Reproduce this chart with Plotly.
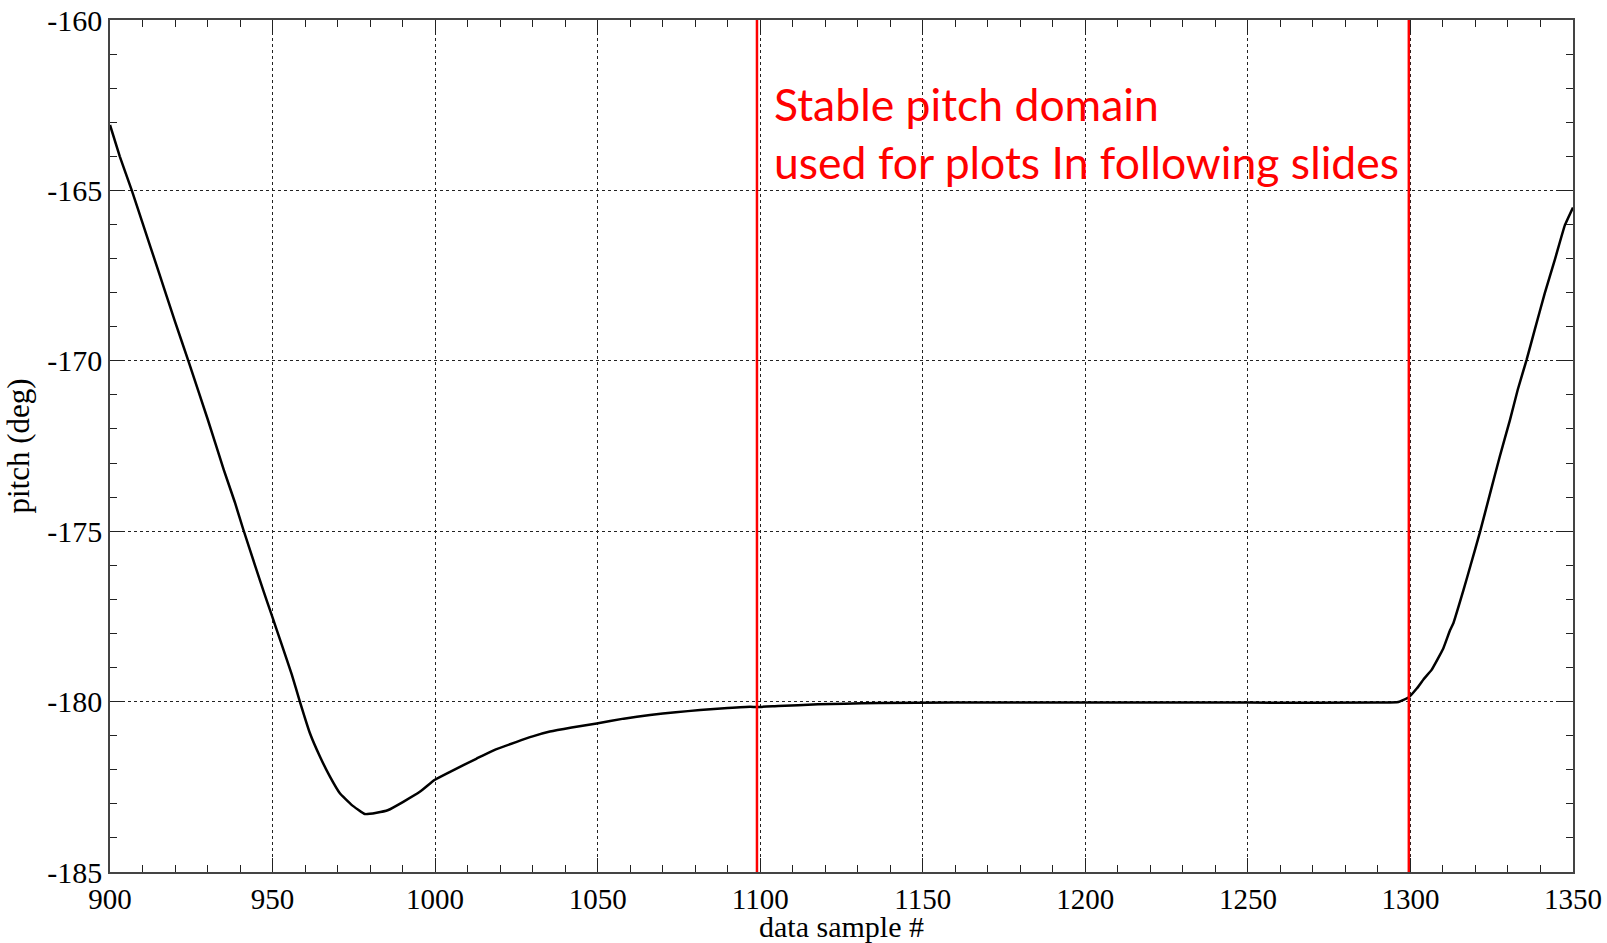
import plotly.graph_objects as go

# --- data ---
sample = [900, 903, 906.7, 910, 915, 920, 924.1, 930, 935, 938.4, 941, 944.6, 947.2, 949.7,
          952.8, 955.9, 958.4, 961.5, 964.6, 967.7, 970.7, 974.3, 978.4, 982, 985.6, 990.2,
          995.4, 999.8, 1004.6, 1012.8, 1018, 1025.1, 1030, 1035.3, 1042, 1049.7, 1058, 1066.1,
          1074, 1081.5, 1090, 1096.9, 1099, 1105.5, 1117.8, 1126, 1136.5, 1160, 1200, 1250,
          1290, 1296.3, 1299.4, 1302, 1304, 1306.5, 1310.1, 1312.2, 1313.2, 1316.3, 1318.5,
          1321.4, 1324.5, 1327.5, 1330.6, 1333, 1335.7, 1338.2, 1341.3, 1344.4, 1347.5, 1350]
pitch = [-163.08, -164.0, -165.0, -165.95, -167.4, -168.85, -170.0, -171.7, -173.2, -174.15,
         -174.95, -176.0, -176.75, -177.45, -178.32, -179.2, -180.0, -180.93, -181.62, -182.21,
         -182.69, -183.03, -183.3, -183.26, -183.18, -182.94, -182.64, -182.3, -182.06, -181.67,
         -181.43, -181.18, -181.02, -180.88, -180.76, -180.64, -180.5, -180.39, -180.31, -180.25,
         -180.19, -180.15, -180.16, -180.13, -180.08, -180.06, -180.04, -180.03, -180.03, -180.03,
         -180.03, -180.01, -179.88, -179.61, -179.35, -179.07, -178.44, -177.9, -177.7, -176.73,
         -176.0, -175.02, -173.89, -172.8, -171.74, -170.85, -169.98, -169.1, -168.02, -167.04,
         -166.02, -165.5]
domain_bounds = [1099, 1299.5]
x_ticks = [900, 950, 1000, 1050, 1100, 1150, 1200, 1250, 1300, 1350]
y_ticks = [-185, -180, -175, -170, -165, -160]
note_lines = ["Stable pitch domain", "used for plots In following slides"]

serif = "Liberation Serif, Times New Roman, serif"

fig = go.Figure()
fig.add_trace(go.Scatter(x=sample, y=pitch, mode="lines",
                         line=dict(color="black", width=2.5, shape="spline", smoothing=0.3),
                         showlegend=False, hoverinfo="x+y"))
for b in domain_bounds:
    fig.add_trace(go.Scatter(x=[b, b], y=[y_ticks[0], y_ticks[-1]], mode="lines",
                             line=dict(color="#ff0000", width=2.5), showlegend=False,
                             hoverinfo="skip"))

fig.add_annotation(x=1103.5, y=-161.6, xref="x", yref="y", xanchor="left", yanchor="top",
                   text="<br>".join(note_lines), showarrow=False, align="left",
                   font=dict(family="Lato, Open Sans, sans-serif", size=44.5, color="#ff0000"))

axis_common = dict(showline=True, linecolor="#444", linewidth=1.5, mirror="ticks",
                   ticks="inside", ticklen=14, tickwidth=1.2, tickcolor="#222",
                   showgrid=True, gridcolor="#222", griddash="dot", gridwidth=1,
                   zeroline=False, automargin=False)

fig.update_xaxes(range=[900, 1350], tickvals=x_ticks, ticktext=[str(v) for v in x_ticks],
                 ticklabelstandoff=0, tickfont=dict(family=serif, size=29, color="black"),
                 minor=dict(dtick=10, ticks="inside", ticklen=7, tickcolor="#222", showgrid=False),
                 title=dict(text="data sample #", font=dict(family=serif, size=30, color="black"),
                            standoff=3),
                 **axis_common)
fig.update_yaxes(range=[-185, -160], tickvals=y_ticks, ticktext=[str(v) for v in y_ticks],
                 ticklabelstandoff=0, tickfont=dict(family=serif, size=30, color="black"),
                 minor=dict(dtick=1, ticks="inside", ticklen=7, tickcolor="#222", showgrid=False),
                 title=dict(text="pitch (deg)", font=dict(family=serif, size=31, color="black"),
                            standoff=8),
                 **axis_common)

fig.update_layout(width=1607, height=943, margin=dict(l=110, r=34, t=20, b=71),
                  plot_bgcolor="white", paper_bgcolor="white")

fig.write_html("out.html", config={"displayModeBar": False},
               post_script="document.body.style.margin='0';document.body.style.overflow='hidden';")
